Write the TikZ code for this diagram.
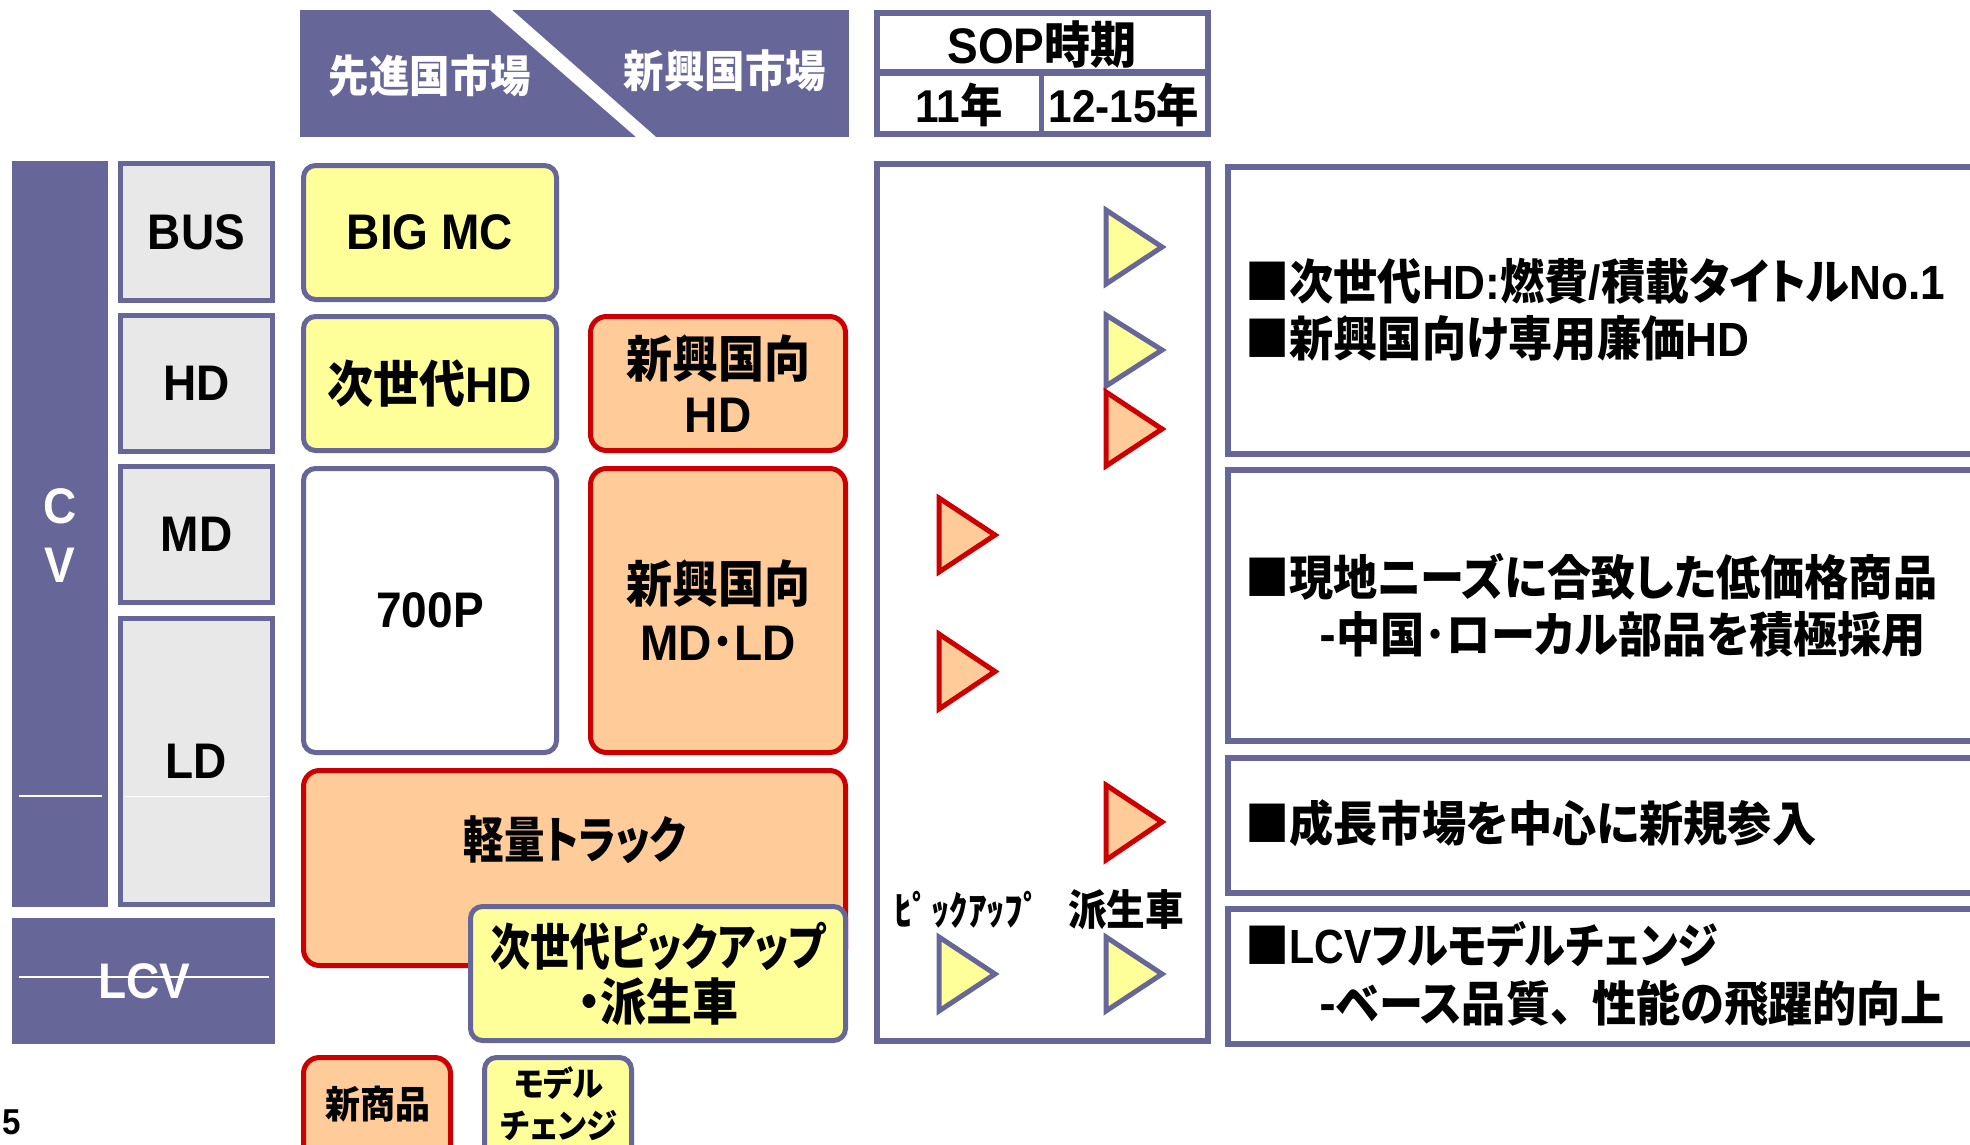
\documentclass[tikz,border=0pt]{standalone}
\usepackage{fontspec}
\usepackage{graphicx}
\setmainfont{Noto Sans CJK JP}[FakeStretch=0.92,RawFeature=+palt]
\newfontfamily\jpfix{Noto Sans CJK JP}[FakeStretch=0.92]
\newfontfamily\latfont{Liberation Sans}[FakeStretch=0.92]
\newcommand\EN[1]{{\latfont #1}}
\newcommand\sqz[2]{\scalebox{#1}[1]{#2}}
\newlength\px \setlength\px{0.5pt}
\definecolor{pur}{HTML}{666699}
\definecolor{lgray}{HTML}{E8E8E8}
\definecolor{yel}{HTML}{FFFF99}
\definecolor{ora}{HTML}{FFCC99}
\definecolor{redb}{HTML}{CC0000}
\tikzset{
  gbox/.style={draw=pur, line width=2.5pt, fill=lgray, inner sep=0pt, minimum width=152\px,
    font=\bfseries\latfont\fontsize{25pt}{28pt}\selectfont},
  ybox/.style={draw=pur, line width=2.5pt, fill=yel, rounded corners=6pt, inner sep=0pt, align=center,
    font=\bfseries\fontsize{25pt}{28pt}\selectfont},
  wbox/.style={ybox, fill=white},
  obox/.style={draw=redb, line width=2.5pt, fill=ora, rounded corners=8pt, inner sep=0pt, align=center,
    font=\bfseries\fontsize{25pt}{28pt}\selectfont},
  pfill/.style={fill=pur, draw=none, inner sep=0pt},
  frame/.style={draw=pur, line width=3pt, fill=white},
  wtxt/.style={text=white, inner sep=0pt, font=\bfseries\fontsize{22pt}{24pt}\selectfont},
  btxt/.style={inner sep=0pt, font=\bfseries\fontsize{23pt}{26pt}\selectfont},
  rtxt/.style={inner sep=0pt, anchor=west, font=\bfseries\fontsize{24pt}{27pt}\selectfont},
  ytri/.style={draw=pur, fill=yel, line width=2.5pt},
  otri/.style={draw=redb, fill=ora, line width=2.5pt},
  thin/.style={draw=white, line width=0.6pt},
}
\begin{document}
\begin{tikzpicture}[x=0.5pt,y=-0.5pt]
\useasboundingbox (0,0) rectangle (1970,1145);
\clip (0,0) rectangle (1970,1145);
\fill[white] (0,0) rectangle (1970,1145);

% header market
\node[pfill, minimum width=549\px, minimum height=127\px] (mkt) at (574.5,73.5) {};
\fill[white] (490,10) -- (512,10) -- (656,137) -- (636,137) -- cycle;
\node[wtxt] (adv) at (430,76) {先進国市場};
\node[wtxt] (emg) at (725,71) {新興国市場};

% SOP header
\node[frame, minimum width=331\px, minimum height=121\px] (sop) at (1042.5,73.5) {};
\coordinate (sl) at (877,72.5);
\coordinate (sr) at (1208,72.5);
\draw[pur, line width=3.2pt] (sl) -- (sr);
\coordinate (vt) at (1041.5,72.5);
\coordinate (vb) at (1041.5,134);
\draw[pur, line width=2.8pt] (vt) -- (vb);
\node[btxt, font=\bfseries\fontsize{25pt}{27pt}\selectfont] (soptxt) at (1042,45) {\EN{SOP}時期};
\node[btxt] (y11) at (959,105) {\EN{11}年};
\node[btxt] (y12) at (1124,105) {\EN{12-15}年};

% left column
\node[pfill, minimum width=96\px, minimum height=746\px] (cv) at (60,534) {};
\draw[thin] (19,796) -- (102,796);
\node[wtxt, font=\bfseries\latfont\fontsize{25pt}{28pt}\selectfont] (c) at (60,506) {C};
\node[wtxt, font=\bfseries\latfont\fontsize{25pt}{28pt}\selectfont] (v) at (60,565) {V};
\node[pfill, minimum width=263\px, minimum height=126\px] (lcv) at (143.5,981) {};
\node[wtxt, font=\bfseries\latfont\fontsize{25pt}{28pt}\selectfont] (lcvt) at (144,981) {LCV};
\draw[thin] (19,977) -- (269,977);

\node[gbox, minimum height=137\px] (bus) at (196.5,232) {BUS};
\node[gbox, minimum height=136\px] (hd) at (196.5,383.5) {HD};
\node[gbox, minimum height=136\px] (md) at (196.5,534.5) {MD};
\node[gbox, minimum height=286\px] (ld) at (196.5,761.5) {LD};
\draw[draw=white, line width=0.5pt] (124,796) -- (269,796);

% product boxes
\node[ybox, minimum width=253\px, minimum height=134\px] (bigmc) at (430,232.5) {\EN{BIG MC}};
\node[ybox, minimum width=253\px, minimum height=134\px] (nhd) at (430,383.5) {次世代\EN{HD}};
\node[obox, minimum width=255\px, minimum height=134\px, font=\bfseries\fontsize{25pt}{27.5pt}\selectfont] (ehd) at (718,383.5) {新興国向\\\EN{HD}};
\node[wbox, minimum width=253\px, minimum height=284\px] (p700) at (430,610.5) {\EN{700P}};
\node[obox, minimum width=255\px, minimum height=284\px, font=\bfseries\fontsize{25pt}{29pt}\selectfont] (emdld) at (718,610.5) {新興国向\\\EN{MD}･\EN{LD}};
\node[obox, minimum width=542\px, minimum height=195\px] (lt) at (574.5,868) {};
\node[btxt, font=\bfseries\fontsize{25pt}{28pt}\selectfont] (ltt) at (575,840) {\sqz{0.88}{軽量トラック}};
\node[ybox, minimum width=375\px, minimum height=134\px, font=\bfseries\fontsize{25pt}{27.5pt}\selectfont] (pick) at (658,973.5) {\sqz{0.87}{次世代ピックアップ}\\・派生車};

% legend
\node[obox, minimum width=147\px, minimum height=115\px] (lg1) at (377,1115) {};
\node[btxt, font=\bfseries\fontsize{19pt}{21pt}\selectfont] (lg1t) at (378,1104) {新商品};
\node[ybox, minimum width=147\px, minimum height=115\px] (lg2) at (558,1115) {};
\node[btxt, align=center, font=\bfseries\fontsize{17pt}{21pt}\selectfont] (lg2t) at (559,1104) {モデル\\チェンジ};
\node[inner sep=0pt, font=\bfseries\latfont\fontsize{18pt}{20pt}\selectfont] (pg) at (12,1122) {5};

% timeline
\node[frame, minimum width=331\px, minimum height=876.5\px] (tl) at (1042.5,602.25) {};
\draw[ytri] (1106,210) -- (1162,247) -- (1106,284) -- cycle;
\draw[ytri] (1106,315) -- (1162,350) -- (1106,386) -- cycle;
\draw[otri] (1106,392) -- (1162,429) -- (1106,466) -- cycle;
\draw[otri] (939,498) -- (995,535) -- (939,572) -- cycle;
\draw[otri] (939,634) -- (995,671.5) -- (939,709) -- cycle;
\draw[otri] (1106,785) -- (1162,822) -- (1106,860) -- cycle;
\draw[ytri] (939,937) -- (995,974) -- (939,1011) -- cycle;
\draw[ytri] (1106,937) -- (1162,974) -- (1106,1011) -- cycle;
\node[btxt, font=\bfseries\jpfix\fontsize{20pt}{22pt}\selectfont] (pu) at (968,910) {ﾋﾟｯｸｱｯﾌﾟ};
\node[btxt, font=\bfseries\fontsize{21pt}{23pt}\selectfont] (ha) at (1126,910) {派生車};

% right boxes
\node[frame, anchor=north west, minimum width=800\px, minimum height=287\px] (r1) at (1225,164) {};
\node[frame, anchor=north west, minimum width=800\px, minimum height=271\px] (r2) at (1225,467) {};
\node[frame, anchor=north west, minimum width=800\px, minimum height=135\px] (r3) at (1225,755) {};
\node[frame, anchor=north west, minimum width=800\px, minimum height=134.5\px] (r4) at (1225,906) {};
\node[rtxt] (t11) at (1245,281) {■次世代\EN{HD:}燃費\EN{/}積載タイトル\EN{No.1}};
\node[rtxt] (t12) at (1245,338) {■新興国向け専用廉価\EN{HD}};
\node[rtxt] (t21) at (1245,577) {■現地ニーズに合致した低価格商品};
\node[rtxt] (t22) at (1319,634) {-中国･ローカル部品を積極採用};
\node[rtxt] (t31) at (1245,823) {■成長市場を中心に新規参入};
\node[rtxt] (t41) at (1245,945) {■\sqz{0.93}{\EN{LCV}フルモデルチェンジ}};
\node[rtxt] (t42) at (1319,1003) {-ベース品質、\kern 10pt性能の飛躍的向上};
\end{tikzpicture}
\end{document}
